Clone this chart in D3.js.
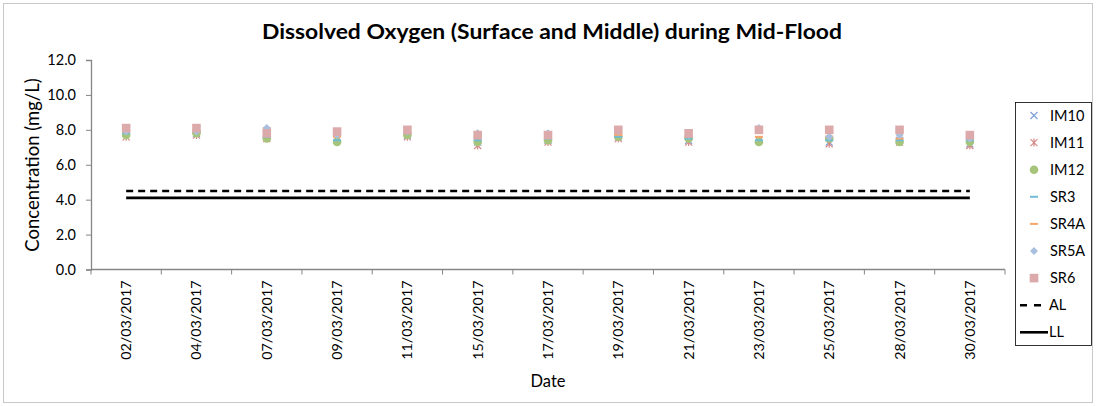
<!DOCTYPE html>
<html>
<head>
<meta charset="utf-8">
<script src="https://cdn.jsdelivr.net/npm/d3@7"></script>
<style>
  body { margin: 0; background: #fff; }
  svg text { font-family: Lato, 'Open Sans', sans-serif; fill: #000; }
</style>
</head>
<body>
<div id="chart"></div>
<script>
// data
const dates = ['02/03/2017', '04/03/2017', '07/03/2017', '09/03/2017', '11/03/2017', '15/03/2017',
    '17/03/2017', '19/03/2017', '21/03/2017', '23/03/2017', '25/03/2017', '28/03/2017', '30/03/2017'];
const IM10 = [7.8, 7.8, 7.9, 7.6, 7.7, 7.3, 7.4, 7.6, 7.4, 7.4, 7.3, 7.4, 7.2];
const IM11 = [7.6, 7.7, 7.5, 7.6, 7.6, 7.1, 7.3, 7.5, 7.3, 7.4, 7.2, 7.3, 7.1];
const IM12 = [7.7, 7.8, 7.5, 7.3, 7.7, 7.3, 7.4, 7.6, 7.5, 7.3, 7.5, 7.3, 7.3];
const SR3 = [7.8, 7.9, 7.6, 7.4, 7.8, 7.4, 7.5, 7.6, 7.5, 7.4, 7.4, 7.4, 7.4];
const SR4A = [7.9, 7.9, 8.1, 7.6, 7.8, 7.6, 7.6, 7.7, 7.6, 7.6, 7.6, 7.5, 7.5];
const SR5A = [7.9, 7.9, 8.1, 7.7, 7.9, 7.8, 7.8, 7.9, 7.7, 8.1, 7.6, 7.7, 7.5];
const SR6 = [8.1, 8.1, 7.8, 7.9, 8.0, 7.7, 7.7, 8.0, 7.8, 8.0, 8.0, 8.0, 7.7];
const actionLevel = 4.5;
const limitLevel = 4.1;
const yTicks = [0, 2, 4, 6, 8, 10, 12];

const series = [
    {name: 'IM10', values: IM10, shape: 'x', color: '#7f9fd6'},
    {name: 'IM11', values: IM11, shape: 'star', color: '#d58a88'},
    {name: 'IM12', values: IM12, shape: 'circle', color: '#a6c47a'},
    {name: 'SR3', values: SR3, shape: 'dash', color: '#6fbcd4'},
    {name: 'SR4A', values: SR4A, shape: 'dash', color: '#f7a56c'},
    {name: 'SR5A', values: SR5A, shape: 'diamond', color: '#a9bfe0'},
    {name: 'SR6', values: SR6, shape: 'square', color: '#dcaaab'}
];
const levels = [
    {name: 'AL', value: actionLevel, dash: '7,5'},
    {name: 'LL', value: limitLevel, dash: null}
];

const W = 1096, H = 406;
const margin = {top: 60, left: 91, right: 91, bottom: 137};
const innerW = 1005 - margin.left;
const innerH = 269.5 - margin.top;

const svg = d3.select('#chart').append('svg')
    .attr('width', W)
    .attr('height', H);

svg.append('rect')
    .attr('x', 3.5).attr('y', 3.5)
    .attr('width', 1089).attr('height', 399)
    .attr('fill', '#fff')
    .attr('stroke', '#c8c8c8');

svg.append('text')
    .attr('x', 552).attr('y', 39)
    .attr('text-anchor', 'middle')
    .attr('textLength', 580)
    .attr('lengthAdjust', 'spacingAndGlyphs')
    .style('font-size', '21.5px')
    .style('font-weight', '700')
    .text('Dissolved Oxygen (Surface and Middle) during Mid-Flood');

const g = svg.append('g')
    .attr('transform', `translate(${margin.left},${margin.top})`);

const x = d3.scaleBand().domain(dates).range([0, innerW]);
const y = d3.scaleLinear().domain([0, 12]).range([innerH, 0]);

// y axis
const yAxis = d3.axisLeft(y).tickValues(yTicks).tickFormat(d3.format('.1f')).tickSize(5).tickPadding(10);
const yAxisG = g.append('g').call(yAxis);
yAxisG.select('.domain').attr('stroke', '#868686').attr('stroke-width', 1.3);
yAxisG.selectAll('.tick line').attr('stroke', '#868686');
yAxisG.selectAll('.tick text').style('font-size', '14.5px');

// x axis, ticks at category boundaries
const xAxisG = g.append('g').attr('transform', `translate(0,${innerH})`);
xAxisG.append('line')
    .attr('x1', 0).attr('x2', innerW)
    .attr('stroke', '#868686').attr('stroke-width', 1.3);
xAxisG.selectAll('line.tk').data(d3.range(dates.length + 1))
    .join('line')
    .attr('class', 'tk')
    .attr('x1', i => i * x.step()).attr('x2', i => i * x.step())
    .attr('y1', 0).attr('y2', 5)
    .attr('stroke', '#868686');
xAxisG.selectAll('text').data(dates)
    .join('text')
    .attr('transform', d => `translate(${x(d) + x.bandwidth() / 2 + 5},11) rotate(-90)`)
    .attr('text-anchor', 'end')
    .style('font-size', '14.3px')
    .text(d => d);

// axis titles
svg.append('text')
    .attr('transform', 'translate(39,165) rotate(-90)')
    .attr('text-anchor', 'middle')
    .style('font-size', '18.5px')
    .text('Concentration (mg/L)');
svg.append('text')
    .attr('x', 548).attr('y', 387)
    .attr('text-anchor', 'middle')
    .style('font-size', '16.5px')
    .text('Date');

// level lines
const first = x(dates[0]) + x.bandwidth() / 2;
const last = x(dates[dates.length - 1]) + x.bandwidth() / 2;
g.selectAll('line.level').data(levels)
    .join('line')
    .attr('class', 'level')
    .attr('x1', first).attr('x2', last)
    .attr('y1', d => y(d.value)).attr('y2', d => y(d.value))
    .attr('stroke', '#000')
    .attr('stroke-width', 2.6)
    .attr('stroke-dasharray', d => d.dash);

// markers
function drawMarker(sel, shape, color) {
    if (shape === 'x') {
        sel.append('path').attr('d', 'M-3.5,-3.5L3.5,3.5M-3.5,3.5L3.5,-3.5')
            .attr('stroke', color).attr('stroke-width', 1.2).attr('fill', 'none');
    } else if (shape === 'star') {
        sel.append('path').attr('d', 'M-3.5,-3.5L3.5,3.5M-3.5,3.5L3.5,-3.5M0,-4L0,4')
            .attr('stroke', color).attr('stroke-width', 1.2).attr('fill', 'none');
    } else if (shape === 'circle') {
        sel.append('circle').attr('r', 4.3).attr('fill', color);
    } else if (shape === 'dash') {
        sel.append('rect').attr('x', -4).attr('y', -1).attr('width', 8).attr('height', 2).attr('fill', color);
    } else if (shape === 'diamond') {
        sel.append('path').attr('d', 'M0,-4L4,0L0,4L-4,0Z').attr('fill', color);
    } else if (shape === 'square') {
        sel.append('rect').attr('x', -4.3).attr('y', -4.3).attr('width', 8.6).attr('height', 8.6).attr('fill', color);
    }
}

series.forEach(s => {
    const sg = g.append('g').attr('class', 'series');
    sg.selectAll('g').data(s.values)
        .join('g')
        .attr('transform', (v, i) => `translate(${x(dates[i]) + x.bandwidth() / 2},${y(v)})`)
        .each(function () { drawMarker(d3.select(this), s.shape, s.color); });
});

// legend
const lg = svg.append('g');
lg.append('rect')
    .attr('x', 1015.5).attr('y', 102.5)
    .attr('width', 76).attr('height', 243)
    .attr('fill', '#fff').attr('stroke', '#000').attr('stroke-width', 0.8);
const items = series.map(s => ({name: s.name, s: s})).concat(levels.map(l => ({name: l.name, l: l})));
const item = lg.selectAll('g.item').data(items)
    .join('g')
    .attr('class', 'item')
    .attr('transform', (d, i) => `translate(1034,${115.5 + i * 27.1})`);
item.each(function (d) {
    const sel = d3.select(this);
    if (d.s) {
        drawMarker(sel, d.s.shape, d.s.color);
    } else {
        sel.append('line')
            .attr('x1', -14).attr('x2', 14)
            .attr('stroke', '#000').attr('stroke-width', 2.6)
            .attr('stroke-dasharray', d.l.dash ? '7,7' : null);
    }
});
item.append('text')
    .attr('x', d => d.s ? 16 : 15)
    .attr('y', 5)
    .style('font-size', '14.5px')
    .text(d => d.name);
</script>
</body>
</html>
